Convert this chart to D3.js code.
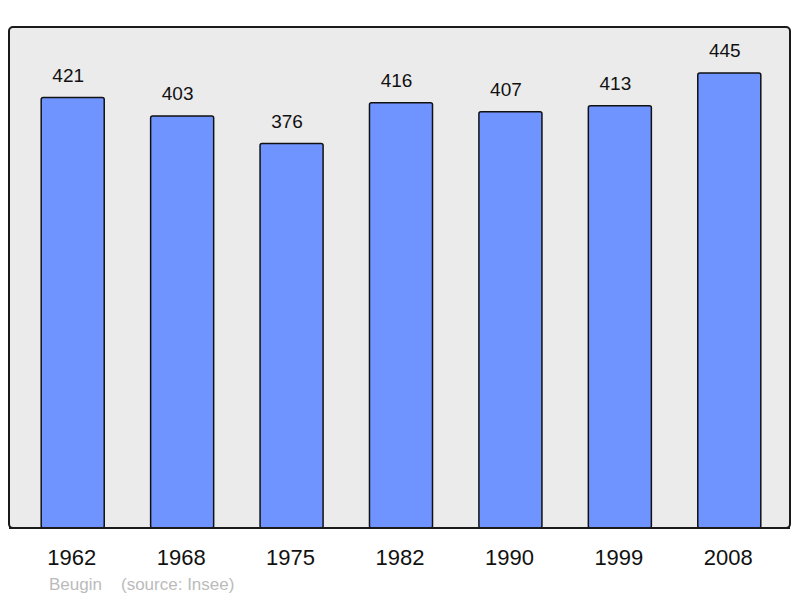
<!DOCTYPE html>
<html><head><meta charset="utf-8">
<script src="https://cdn.jsdelivr.net/npm/d3@7"></script>
<style>body{margin:0;background:#fff}svg{display:block}</style>
</head><body>
<svg id="c" width="800" height="598"></svg>
<script>
const years = ["1962","1968","1975","1982","1990","1999","2008"];
const population = [421,403,376,416,407,413,445];
const commune = "Beugin";
const source = "(source: Insee)";

const svg = d3.select("#c");
const font = "'Liberation Sans', Arial, sans-serif";
const x = d3.scaleBand().domain(years).range([18,784]).paddingInner(0.424).paddingOuter(0.212);
const y = d3.scaleLinear().domain([0,490]).range([528,27]);

svg.append("rect").attr("x",9).attr("y",27).attr("width",781).attr("height",501)
  .attr("rx",4).attr("fill","#ebebeb").attr("stroke","#1a1a1a").attr("stroke-width",2);

const data = years.map((yr,i)=>({yr,v:population[i]}));
svg.selectAll("rect.bar").data(data).join("rect").attr("class","bar")
  .attr("x",d=>x(d.yr)).attr("y",d=>y(d.v)).attr("width",x.bandwidth())
  .attr("height",d=>y(0)-y(d.v)).attr("rx",2)
  .attr("fill","#7094ff").attr("stroke","#111").attr("stroke-width",1.5);

svg.selectAll("text.val").data(data).join("text").attr("class","val")
  .attr("x",d=>x(d.yr)+x.bandwidth()/2-4.5).attr("y",d=>y(d.v)-16)
  .attr("text-anchor","middle").attr("font-family",font).attr("font-size",19)
  .attr("fill","#111").text(d=>d.v);

// redraw bottom border over bar bottoms
svg.append("line").attr("x1",9).attr("x2",790).attr("y1",528).attr("y2",528)
  .attr("stroke","#1a1a1a").attr("stroke-width",2);

const xAxis = d3.axisBottom(x).tickSize(0).tickPadding(0);
const gx = svg.append("g").attr("transform","translate(-1,565)").call(xAxis);
gx.select(".domain").remove();
gx.selectAll("text").attr("dy",0).attr("font-family",font).attr("font-size",22).attr("fill","#111");

svg.append("text").attr("x",49).attr("y",590).attr("font-family",font).attr("font-size",17)
  .attr("fill","#bbbbbb").text(commune);
svg.append("text").attr("x",121).attr("y",590).attr("font-family",font).attr("font-size",17)
  .attr("fill","#bbbbbb").text(source);
</script>
</body></html>
